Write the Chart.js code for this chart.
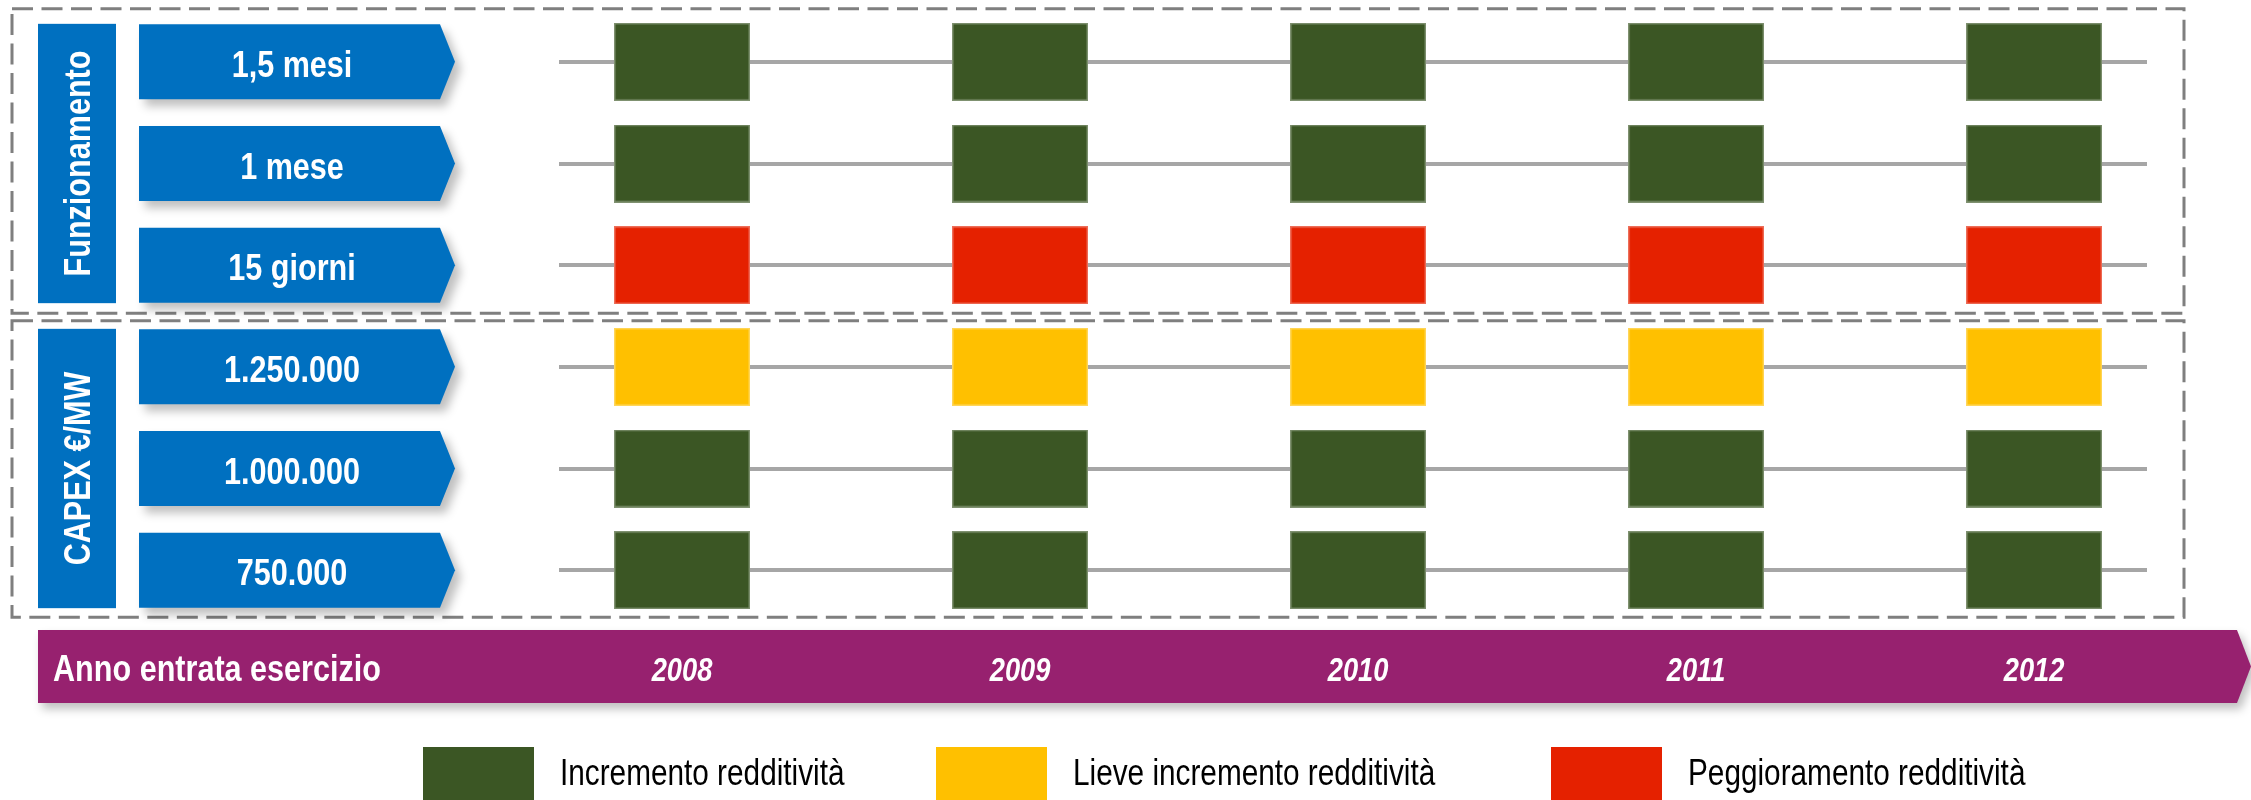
<!DOCTYPE html>
<html><head><meta charset="utf-8">
<script src="https://cdn.jsdelivr.net/npm/chart.js@4.4.1/dist/chart.umd.min.js"></script>
<style>html,body{margin:0;padding:0;background:#fff;}#wrap{width:2251px;height:800px;position:relative;}</style>
</head><body><div id="wrap"><canvas id="c" width="2251" height="800"></canvas></div>
<script>
// ---------------- data ----------------
const YEARS = [2008, 2009, 2010, 2011, 2012];
const YEAR_LABELS = ['2008', '2009', '2010', '2011', '2012'];
const ROWS = ['1,5 mesi', '1 mese', '15 giorni', '1.250.000', '1.000.000', '750.000'];
const GROUP_NAMES = ['Funzionamento', 'CAPEX €/MW'];
const GROUP_ROWS = [[0, 1, 2], [3, 4, 5]];
// I = Incremento, L = Lieve incremento, P = Peggioramento
const STATUS_1_5_MESI   = ['I', 'I', 'I', 'I', 'I'];
const STATUS_1_MESE     = ['I', 'I', 'I', 'I', 'I'];
const STATUS_15_GIORNI  = ['P', 'P', 'P', 'P', 'P'];
const STATUS_1250000    = ['L', 'L', 'L', 'L', 'L'];
const STATUS_1000000    = ['I', 'I', 'I', 'I', 'I'];
const STATUS_750000     = ['I', 'I', 'I', 'I', 'I'];
const STATUS = [STATUS_1_5_MESI, STATUS_1_MESE, STATUS_15_GIORNI, STATUS_1250000, STATUS_1000000, STATUS_750000];
const LEGEND_KEYS = ['I', 'L', 'P'];
const LEGEND_LABELS = ['Incremento redditività', 'Lieve incremento redditività', 'Peggioramento redditività'];
const AXIS_TITLE = 'Anno entrata esercizio';

// ---------------- styles ----------------
const COLORS = { I: '#3B5624', L: '#FFC000', P: '#E52100' };
const BLUE = '#0070C0', PURPLE = '#97216F', GRID = '#A6A6A6', DASH = '#7F7F7F';

// font detection (narrow family), with horizontal scaling fallback
function pickFont() {
  const c = document.createElement('canvas').getContext('2d');
  const t = 'Funzionamento esercizio 2008';
  c.font = 'bold 40px monospace';
  const base = c.measureText(t).width;
  for (const f of ['Liberation Sans Narrow', 'Arial Narrow']) {
    c.font = `bold 40px "${f}", monospace`;
    if (Math.abs(c.measureText(t).width - base) > 0.5) return f;
  }
  return 'Liberation Sans';
}
const FAMILY = pickFont();
const SX = (() => {
  const c = document.createElement('canvas').getContext('2d');
  c.font = `bold 37px "${FAMILY}"`;
  return 328 / c.measureText(AXIS_TITLE).width;
})();

function txt(ctx, s, x, y, font, color, align) {
  ctx.save();
  ctx.font = font.replace('FAM', `"${FAMILY}"`);
  ctx.fillStyle = color;
  ctx.textAlign = align || 'center';
  ctx.textBaseline = 'alphabetic';
  ctx.translate(x, y);
  ctx.scale(SX, 1);
  ctx.fillText(s, 0, 0);
  ctx.restore();
}

function rectImg(color) {
  const cv = document.createElement('canvas');
  cv.width = 136; cv.height = 78;
  const g = cv.getContext('2d');
  g.fillStyle = color; g.fillRect(0, 0, 136, 78);
  g.strokeStyle = 'rgba(255,255,255,0.35)'; g.lineWidth = 1.5; g.strokeRect(0.75, 0.75, 134.5, 76.5);
  return cv;
}
const IMGS = { I: rectImg(COLORS.I), L: rectImg(COLORS.L), P: rectImg(COLORS.P) };

const points = [], styles = [];
ROWS.forEach((r, ri) => YEARS.forEach((yv, yi) => {
  points.push({ x: yv, y: r });
  styles.push(IMGS[STATUS[ri][yi]]);
}));

const deco = {
  id: 'deco',
  afterDraw(chart) {
    const ctx = chart.ctx, ys = chart.scales.y, xs = chart.scales.x;
    const BOX_TOP = [-53, -46], BOX_BOT = [48, 47];
    GROUP_ROWS.forEach((rows, gi) => {
      const c0 = ys.getPixelForValue(rows[0]), c1 = ys.getPixelForValue(rows[rows.length - 1]);
      // dashed frame
      ctx.save();
      ctx.strokeStyle = DASH; ctx.lineWidth = 3; ctx.setLineDash([21, 8.5]);
      ctx.strokeRect(12, c0 + BOX_TOP[gi], 2184 - 12, (c1 + BOX_BOT[gi]) - (c0 + BOX_TOP[gi]));
      ctx.restore();
      // group label box
      const t = c0 - 38, b = c1 + 38;
      ctx.fillStyle = BLUE; ctx.fillRect(38, t, 78, b - t);
      ctx.save();
      ctx.translate(77, (t + b) / 2); ctx.rotate(-Math.PI / 2);
      txt(ctx, GROUP_NAMES[gi], 0, 13, 'bold 37px FAM', '#fff', 'center');
      ctx.restore();
    });
    // row arrows
    ROWS.forEach((r, i) => {
      const c = ys.getPixelForValue(i);
      ctx.save();
      ctx.shadowColor = 'rgba(0,0,0,0.25)'; ctx.shadowBlur = 10; ctx.shadowOffsetX = 6; ctx.shadowOffsetY = 7;
      ctx.fillStyle = BLUE;
      ctx.beginPath();
      ctx.moveTo(139, c - 37.5); ctx.lineTo(440, c - 37.5); ctx.lineTo(455, c);
      ctx.lineTo(440, c + 37.5); ctx.lineTo(139, c + 37.5); ctx.closePath(); ctx.fill();
      ctx.restore();
      txt(ctx, r, 292, c + 15, 'bold 37px FAM', '#fff', 'center');
    });
    // purple timeline arrow
    ctx.save();
    ctx.shadowColor = 'rgba(0,0,0,0.25)'; ctx.shadowBlur = 10; ctx.shadowOffsetX = 4; ctx.shadowOffsetY = 6;
    ctx.fillStyle = PURPLE;
    ctx.beginPath();
    ctx.moveTo(38, 630); ctx.lineTo(2237, 630); ctx.lineTo(2251, 666.5);
    ctx.lineTo(2237, 703); ctx.lineTo(38, 703); ctx.closePath(); ctx.fill();
    ctx.restore();
    txt(ctx, AXIS_TITLE, 53, 681, 'bold 37px FAM', '#fff', 'left');
    YEARS.forEach((yv, i) => {
      txt(ctx, YEAR_LABELS[i], xs.getPixelForValue(yv), 681, 'italic bold 33px FAM', '#fff', 'center');
    });
    // legend
    const LX = [423, 936, 1551];
    LEGEND_KEYS.forEach((k, i) => {
      ctx.fillStyle = COLORS[k];
      ctx.fillRect(LX[i], 747, 111, 78);
      txt(ctx, LEGEND_LABELS[i], LX[i] + 137, 785, '36px FAM', '#000', 'left');
    });
  }
};

new Chart(document.getElementById('c'), {
  type: 'scatter',
  data: {
    datasets: [{
      data: points,
      pointStyle: styles,
      radius: 1,
      hoverRadius: 1,
      showLine: false
    }]
  },
  options: {
    responsive: false,
    animation: false,
    events: [],
    layout: { padding: { left: 559, right: 104, top: 11, bottom: 179 } },
    plugins: { legend: { display: false }, tooltip: { enabled: false } },
    scales: {
      x: { type: 'linear', display: false, min: 2007.636, max: 2012.334 },
      y: {
        type: 'category', labels: ROWS, offset: true,
        grid: { color: GRID, lineWidth: 4, offset: false, drawTicks: false },
        border: { display: false },
        ticks: { display: false },
        afterFit(s) { s.width = 0; }
      }
    }
  },
  plugins: [deco]
});
</script>
</body></html>
